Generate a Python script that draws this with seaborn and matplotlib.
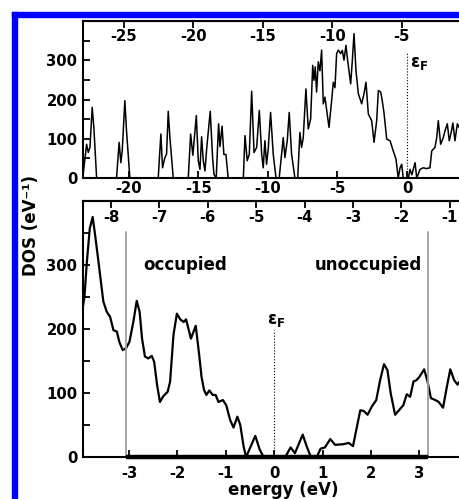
import matplotlib
matplotlib.use("Agg")
import matplotlib.pyplot as plt
import seaborn as sns
from matplotlib.patches import Rectangle
from matplotlib.ticker import MultipleLocator

# ---------------- data ----------------
# wide energy range DOS (top panel), energy relative to E_F (eV)
wide_energy = [-23.32, -23.04, -22.92, -22.80, -22.64, -22.52, -22.32,
               -20.89, -20.70, -20.58, -20.48, -20.29, -20.17, -19.93,
               -17.89, -17.70, -17.58, -17.41, -17.29, -17.17, -17.05, -16.81,
               -15.73, -15.56, -15.40, -15.15, -15.01, -14.89, -14.77, -14.65,
               -14.53, -14.41, -14.15, -13.98, -13.88, -13.72, -13.55, -13.45,
               -13.30, -13.17, -13.02, -12.86,
               -11.77, -11.65, -11.49, -11.34, -11.17, -11.00, -10.81, -10.62,
               -10.45, -10.34, -10.22, -10.10, -9.98, -9.81, -9.62, -9.42,
               -9.19, -8.90, -8.78, -8.61, -8.47, -8.30, -8.06,
               -7.86, -7.70, -7.58, -7.46, -7.27, -7.10, -6.93, -6.78, -6.69,
               -6.60, -6.50, -6.38, -6.26, -6.14, -6.02, -5.90, -5.78, -5.61,
               -5.42, -5.30, -5.18, -5.06, -4.94, -4.77, -4.65, -4.53, -4.39,
               -4.27, -4.05, -3.93, -3.81, -3.67, -3.50, -3.26, -3.09, -2.95,
               -2.78, -2.54, -2.37, -2.18, -2.06, -1.89, -1.78, -1.65, -1.46,
               -1.22, -0.99, -0.79, -0.63, -0.50, -0.38, -0.27, 0.10, 0.22,
               0.35, 0.58, 0.70, 0.94, 1.17, 1.40, 1.65, 1.78, 2.01, 2.14,
               2.25, 2.42, 2.61, 2.73, 2.90, 3.04, 3.20, 3.30, 3.45, 3.62, 3.74]
wide_dos = [0, 86, 65, 78, 180, 129, 0,
            0, 91, 39, 69, 197, 120, 0,
            0, 112, 26, 52, 61, 170, 103, 0,
            0, 112, 58, 159, 44, 22, 105, 44,
            18, 73, 170, 52, 9, 0, 138, 80,
            132, 60, 60, 0,
            0, 108, 44, 61, 221, 65, 78, 172,
            61, 26, 95, 35, 74, 167, 61, 0,
            0, 103, 52, 95, 167, 61, 0,
            0, 116, 78, 103, 227, 125, 150, 287, 249,
            283, 219, 296, 273, 326, 189, 206, 175, 129,
            197, 244, 230, 317, 326, 317, 325, 300, 338,
            300, 240, 300, 368, 274, 215, 189, 215, 244,
            163, 146, 91, 146, 223, 219, 197, 165, 99,
            95, 69, 48, 0, 26, 35, 0, 0, 22,
            8, 39, 0, 22, 26, 24, 26, 69, 78, 103,
            146, 86, 103, 120, 138, 95, 120, 140, 95, 138, 129]

# narrow energy range DOS (bottom panel)
zoom_energy = [-3.95, -3.92, -3.87, -3.81, -3.75, -3.70, -3.63, -3.58, -3.53,
               -3.46, -3.39, -3.32, -3.25, -3.20, -3.13, -3.06, -2.99, -2.91,
               -2.84, -2.78, -2.73, -2.67, -2.60, -2.53, -2.48, -2.42, -2.36,
               -2.29, -2.20, -2.15, -2.08, -2.01, -1.94, -1.87, -1.82, -1.72,
               -1.62, -1.55, -1.50, -1.45, -1.40, -1.34, -1.27, -1.21, -1.15,
               -1.06, -0.99, -0.91, -0.84, -0.76, -0.70, -0.63, -0.58, -0.51,
               -0.39, -0.30, -0.22, 0.23, 0.34, 0.43, 0.59, 0.68, 0.76, 0.88,
               0.96, 1.05, 1.16, 1.26, 1.43, 1.54, 1.63, 1.71, 1.78, 1.85,
               1.93, 2.02, 2.11, 2.19, 2.27, 2.34, 2.41, 2.50, 2.59, 2.67,
               2.74, 2.81, 2.88, 2.94, 3.00, 3.10, 3.17, 3.24, 3.33, 3.40,
               3.49, 3.57, 3.64, 3.72, 3.79, 3.82]
zoom_dos = [236, 250, 305, 357, 375, 347, 305, 274, 243,
            227, 219, 198, 196, 180, 167, 170, 180, 211,
            244, 227, 185, 157, 154, 158, 149, 113, 86,
            95, 102, 118, 191, 224, 215, 211, 215, 185,
            205, 160, 125, 105, 97, 104, 97, 97, 86,
            89, 81, 58, 46, 63, 50, 16, 0, 12,
            33, 12, 0, 0, 15, 6, 35, 15, 0, 0,
            13, 15, 28, 19, 20, 22, 17, 47, 73, 72,
            66, 79, 89, 120, 145, 136, 99, 66, 74, 81,
            98, 94, 118, 120, 125, 137, 118, 92, 89, 86,
            77, 110, 137, 120, 113, 117]

vacuum_shift = 4.63          # top axes: energy relative to vacuum level
wide_top_ticks = [-25, -20, -15, -10, -5]
wide_bottom_ticks = [-20, -15, -10, -5, 0]
zoom_top_ticks = [-8, -7, -6, -5, -4, -3, -2, -1]
zoom_bottom_ticks = [-3, -2, -1, 0, 1, 2, 3]
dos_ticks = [0, 100, 200, 300]
window_edges = [-3.06, 3.18]   # occupied / unoccupied window

# ---------------- style ----------------
sns.set_style("ticks")
plt.rcParams["font.family"] = ["DejaVu Sans"]
plt.rcParams["font.weight"] = "bold"
plt.rcParams["axes.unicode_minus"] = False
plt.rcParams["axes.linewidth"] = 1.5
plt.rcParams["mathtext.fontset"] = "dejavusans"
for key in ["text.color", "axes.labelcolor", "xtick.color", "ytick.color",
            "axes.edgecolor", "xtick.labelcolor", "ytick.labelcolor"]:
    plt.rcParams[key] = "black"

W, H = 459, 499
fig = plt.figure(figsize=(W / 100, H / 100), dpi=100)
fig.patch.set_facecolor("white")


def rect(l, t, r, b):
    return [l / W, 1 - b / H, (r - l) / W, (b - t) / H]


ax1 = fig.add_axes(rect(83, 21, 459, 178))
ax2 = fig.add_axes(rect(83, 201, 459, 457))

sns.lineplot(x=wide_energy, y=wide_dos, ax=ax1, color="black", lw=1.1)
sns.lineplot(x=zoom_energy, y=zoom_dos, ax=ax2, color="black", lw=1.6)

ax1.set_xlim(-23.3, 3.74)
ax2.set_xlim(-3.95, 3.82)
fs = 10.7
for ax, bticks, tticks, bpad, tpad in [
        (ax1, wide_bottom_ticks, wide_top_ticks, 2.5, -16.5),
        (ax2, zoom_bottom_ticks, zoom_top_ticks, 6.5, -17.5)]:
    ax.set_ylim(0, 400)
    ax.set_yticks(dos_ticks)
    ax.yaxis.set_minor_locator(MultipleLocator(50))
    ax.set_xticks(bticks)
    ax.set_xlabel("")
    ax.set_ylabel("")
    ax.spines["right"].set_visible(False)
    ax.tick_params(axis="y", which="both", direction="in", length=5,
                   width=1.3, labelsize=fs, pad=4, colors="black")
    ax.tick_params(axis="x", which="both", direction="in", length=5,
                   width=1.3, labelsize=fs, pad=bpad, top=False,
                   colors="black")
    sec = ax.secondary_xaxis("top", functions=(lambda x: x - vacuum_shift,
                                               lambda x: x + vacuum_shift))
    sec.set_xticks(tticks)
    sec.tick_params(direction="in", length=5, width=1.3, labelsize=fs,
                    pad=tpad, colors="black")
    sec.spines["top"].set_linewidth(1.5)
    sec.spines["top"].set_color("black")
    for lab in ax.get_xticklabels() + ax.get_yticklabels() + sec.get_xticklabels():
        lab.set_fontweight("bold")
        lab.set_color("black")

eps_label = r"$\mathrm{\varepsilon}_{\mathbf{F}}$"
# Fermi level markers
ax1.axvline(0, ymin=0, ymax=321 / 400, color="black", lw=0.8, ls=":")
ax1.text(0.2, 292, eps_label, fontsize=12, fontweight="normal",
         ha="left", va="center")
ax2.axvline(0, ymin=0, ymax=198 / 400, color="black", lw=0.8, ls=":")
ax2.text(0.05, 200, eps_label, fontsize=12, fontweight="normal",
         ha="center", va="bottom")

# occupied / unoccupied window
for xe in window_edges:
    ax2.axvline(xe, ymin=0, ymax=352 / 400, color="#a0a0a0", lw=1.3)
ax2.plot(window_edges, [0, 0], color="black", lw=3.2, clip_on=False,
         solid_capstyle="butt", zorder=5)
ax2.text(-1.83, 300, "occupied", fontsize=12, fontweight="bold",
         ha="center", va="center")
ax2.text(1.95, 300, "unoccupied", fontsize=12, fontweight="bold",
         ha="center", va="center")

fig.text(30.5 / W, 1 - 225 / H, "DOS (eV\u207b\u00b9)", rotation=90,
         ha="center", va="center", fontsize=12, fontweight="bold")
fig.text(283 / W, 1 - 481 / H, "energy (eV)", ha="center", va="top",
         fontsize=12, fontweight="bold")

# blue frame
fig.patches.append(Rectangle((12 / W, 0), 5 / W, (H - 12) / H,
                             transform=fig.transFigure, color="#0000ff",
                             zorder=10))
fig.patches.append(Rectangle((12 / W, 1 - 17 / H), (W - 12) / W, 5 / H,
                             transform=fig.transFigure, color="#0000ff",
                             zorder=10))

fig.savefig("out.png", dpi=100, facecolor="white")
